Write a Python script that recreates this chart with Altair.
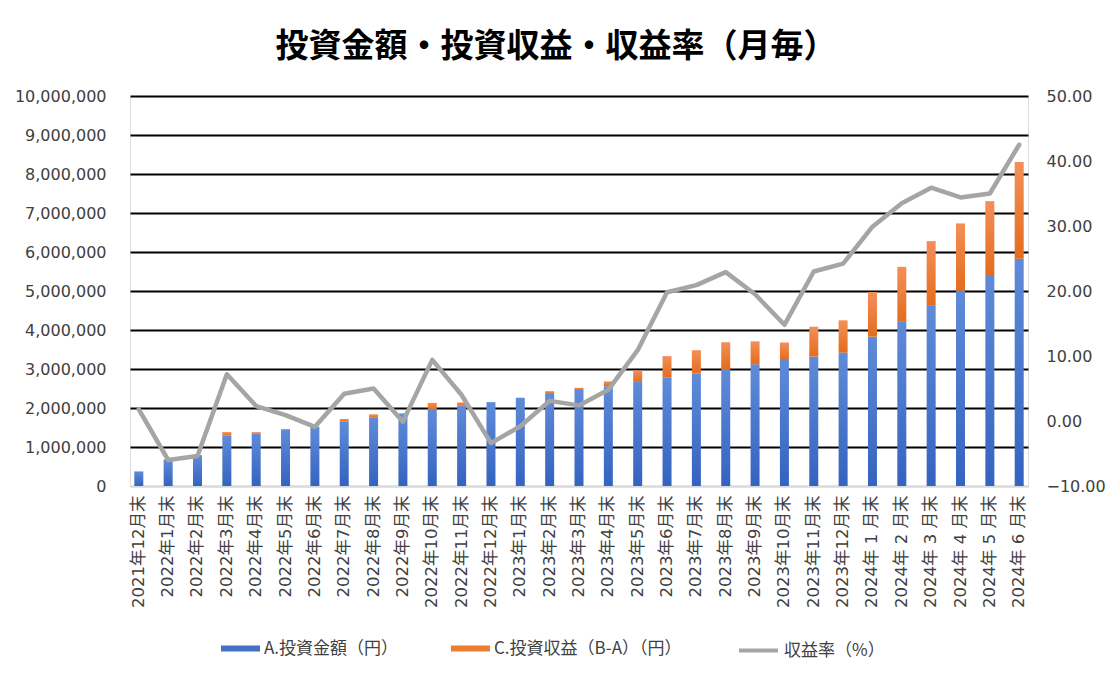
import altair as alt
import pandas as pd

FONT = "DejaVu Sans, Noto Sans CJK JP"
CJK = "Noto Sans CJK JP"

months = [
    "2021年12月末", "2022年1月末", "2022年2月末", "2022年3月末", "2022年4月末",
    "2022年5月末", "2022年6月末", "2022年7月末", "2022年8月末", "2022年9月末",
    "2022年10月末", "2022年11月末", "2022年12月末", "2023年1月末", "2023年2月末",
    "2023年3月末", "2023年4月末", "2023年5月末", "2023年6月末", "2023年7月末",
    "2023年8月末", "2023年9月末", "2023年10月末", "2023年11月末", "2023年12月末",
    "2024年 1 月末", "2024年 2 月末", "2024年 3 月末", "2024年 4 月末",
    "2024年 5 月末", "2024年 6 月末",
]
invest = [
    370000, 680000, 790000, 1290000, 1350000, 1450000, 1520000, 1650000,
    1750000, 1860000, 1950000, 2060000, 2150000, 2260000, 2360000, 2460000,
    2560000, 2670000, 2780000, 2880000, 3000000, 3120000, 3230000, 3320000,
    3420000, 3830000, 4210000, 4620000, 5010000, 5410000, 5830000,
]
gain = [
    7000, -41000, -43000, 93000, 31000, 13000, -14000, 69000,
    88000, -2000, 183000, 82000, -73000, -18000, 73000, 59000,
    123000, 291000, 550000, 602000, 687000, 590000, 450000, 764000,
    828000, 1145000, 1410000, 1659000, 1723000, 1894000, 2478000,
]
rate = [
    1.8, -6.0, -5.4, 7.2, 2.3, 0.9, -0.9, 4.2, 5.0, -0.1, 9.4, 4.0, -3.4,
    -0.8, 3.1, 2.4, 4.8, 10.9, 19.8, 20.9, 22.9, 19.5, 14.8, 23.0, 24.2,
    29.9, 33.5, 35.9, 34.4, 35.0, 42.5,
]
invest_name = "A.投資金額（円）"
gain_name = "C.投資収益（B-A）（円）"
rate_name = "収益率（%）"
invest_color = "#4472c4"
gain_color = "#ed7d31"
rate_color = "#a5a5a5"
title_text = "投資金額・投資収益・収益率（月毎）"

df = pd.DataFrame({"month": months, "invest": invest, "gain": gain, "rate": rate})
df["s_invest"] = invest_name
df["s_gain"] = gain_name
df["s_rate"] = rate_name

x_enc = alt.X(
    "month:N", sort=months, title=None,
    scale=alt.Scale(paddingInner=0.7, paddingOuter=0.15),
    axis=alt.Axis(
        labelAngle=-90, labelFont=FONT, labelFontSize=16.5, labelColor="#404040",
        labelPadding=9, ticks=False, domainColor="#d9d9d9", domainWidth=2,
        labelLimit=200,
    ),
)

left_scale = alt.Scale(domain=[0, 10000000], nice=False)
left_axis = alt.Axis(
    title=None, format=",d", values=list(range(0, 10000001, 1000000)),
    grid=True, gridWidth=2, labelOverlap=False,
    gridColor={"condition": {"test": "datum.value === 0", "value": "#d9d9d9"}, "value": "#000000"},
    domain=False, ticks=False, labelPadding=24, labelFont=FONT, labelFontSize=16,
    labelColor="#404040",
)

blue_grad = alt.Gradient(
    gradient="linear",
    stops=[alt.GradientStop(color="#5f8bd8", offset=0), alt.GradientStop(color="#3463c0", offset=1)],
    x1=0, x2=0, y1=0, y2=1,
)
orange_grad = alt.Gradient(
    gradient="linear",
    stops=[alt.GradientStop(color="#f39058", offset=0), alt.GradientStop(color="#e46c1e", offset=1)],
    x1=0, x2=0, y1=0, y2=1,
)


def bar_legend(x_pos):
    return alt.Legend(
        title=None, orient="none", direction="horizontal", legendX=x_pos, legendY=533,
        symbolType="M-1,-0.16L1,-0.16L1,0.16L-1,0.16Z", symbolSize=1520,
        symbolStrokeWidth=0, labelFont=CJK, labelFontSize=17, labelColor="#404040",
        labelOffset=4, labelLimit=400,
    )


base = alt.Chart(df)

blue = base.mark_bar(fill=blue_grad, size=9).encode(
    x=x_enc,
    y=alt.Y("invest:Q", scale=left_scale, axis=left_axis),
)
orange = base.transform_filter("datum.gain > 0").transform_calculate(
    total="datum.invest + datum.gain"
).mark_bar(fill=orange_grad, size=9).encode(
    x=x_enc,
    y=alt.Y("total:Q", scale=left_scale, axis=left_axis),
    y2="invest:Q",
)
legend_a = base.mark_bar(size=9).encode(
    x=x_enc,
    y=alt.Y("invest:Q", scale=left_scale, axis=left_axis),
    y2="invest:Q",
    fill=alt.Fill("s_invest:N", scale=alt.Scale(domain=[invest_name], range=[invest_color]),
                  legend=bar_legend(91)),
)
legend_c = base.mark_bar(size=9).encode(
    x=x_enc,
    y=alt.Y("invest:Q", scale=left_scale, axis=left_axis),
    y2="invest:Q",
    fill=alt.Fill("s_gain:N", scale=alt.Scale(domain=[gain_name], range=[gain_color]),
                  legend=bar_legend(321)),
)

bars = alt.layer(blue, orange, legend_a, legend_c).resolve_scale(fill="independent")

line = base.mark_line(strokeWidth=4.5, strokeJoin="round", strokeCap="round").encode(
    x=x_enc,
    y=alt.Y(
        "rate:Q", scale=alt.Scale(domain=[-10, 50], nice=False),
        axis=alt.Axis(
            orient="right", title=None, format=".2f", values=list(range(-10, 51, 10)),
            grid=False, domain=False, ticks=False, labelPadding=18, labelFont=FONT,
            labelFontSize=16, labelColor="#404040", labelOverlap=False,
        ),
    ),
    stroke=alt.Stroke(
        "s_rate:N",
        scale=alt.Scale(domain=[rate_name], range=[rate_color]),
        legend=alt.Legend(
            title=None, orient="none", direction="horizontal", legendX=607, legendY=533,
            symbolType="stroke", symbolSize=1520, symbolStrokeWidth=4,
            labelFont=CJK, labelFontSize=17, labelColor="#404040", labelOffset=4,
        ),
    ),
)

chart = alt.layer(bars, line).resolve_scale(
    y="independent", fill="independent", stroke="independent"
).properties(
    width=898,
    height=390,
    title=alt.TitleParams(
        title_text, font=CJK, fontSize=33, fontWeight="bold", color="#000000",
        anchor="middle", dx=-23, offset=24,
    ),
    autosize=alt.AutoSizeParams(type="none"),
    padding={"left": 122, "top": 88, "right": 84, "bottom": 186},
).configure_view(stroke=None).configure(background="white")

chart.save("out.html", embed_options={"renderer": "svg", "actions": False})
